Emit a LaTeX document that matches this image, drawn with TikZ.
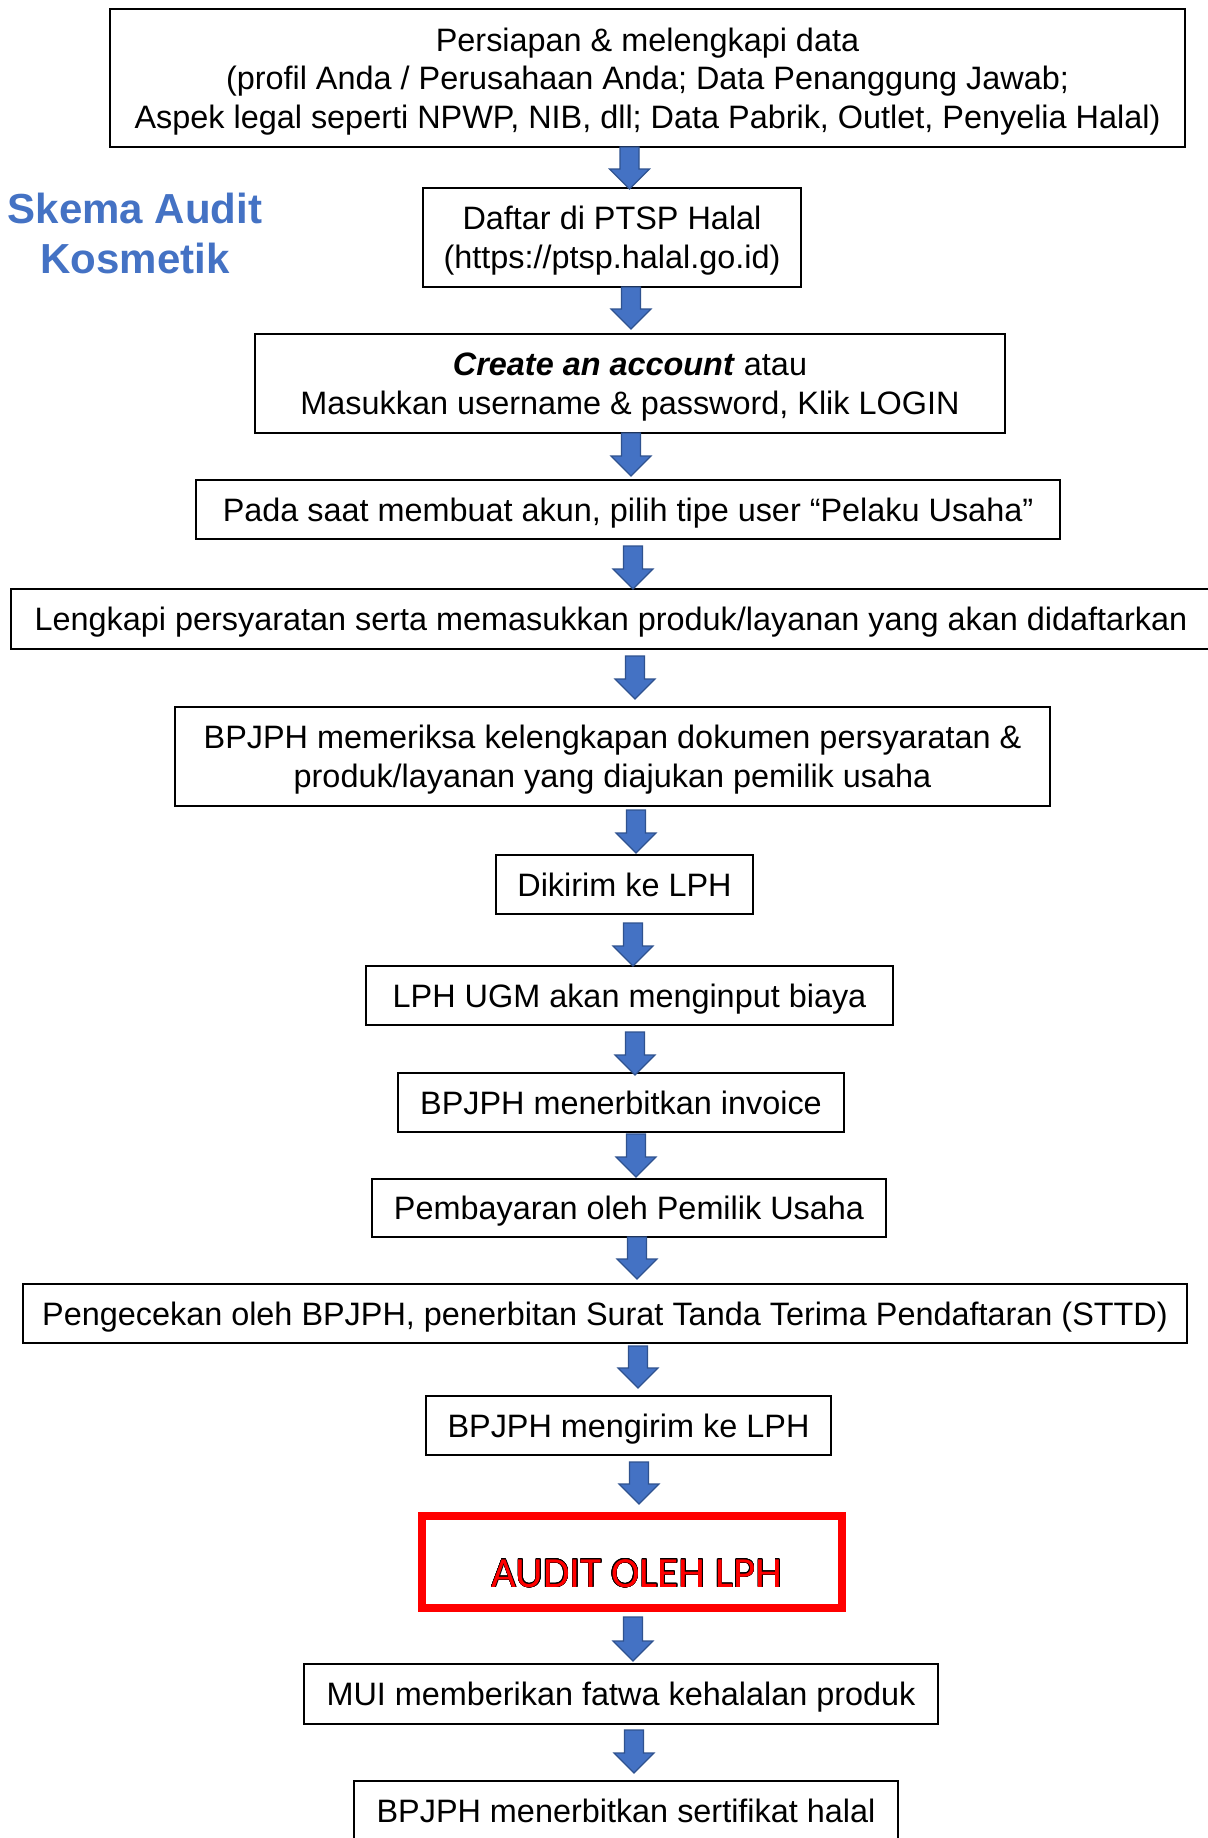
\documentclass[tikz,border=0pt]{standalone}
\usepackage{fontspec}
\setmainfont{Liberation Sans}
\newfontfamily\calibfont{Carlito}
\usepackage{contour}
\contourlength{0.45bp}
\usetikzlibrary{calc}
\definecolor{arrowfill}{HTML}{4472C4}
\definecolor{arrowline}{HTML}{2F528F}
\definecolor{titleblue}{HTML}{4472C4}
\newcommand{\boxlines}[1]{\vtop{\halign{\hfil##\hfil\cr#1\crcr}}}
\tikzset{
  stepbox/.style={draw=black, line width=2bp, inner sep=0pt, rectangle,
    font=\fontsize{32.4bp}{38.5bp}\selectfont, text height=23bp, text depth=0bp},
  redbox/.style={draw=red, line width=8bp, inner sep=0pt, rectangle},
  blockarr/.style={fill=arrowfill, draw=arrowline, line width=1.2bp, line join=miter,
    to path={let \p1=(\tikztostart), \p2=(\tikztotarget) in
      (\x1-9.5bp,\y1) -- (\x1+9.5bp,\y1) -- (\x1+9.5bp,\y2+20bp) -- (\x1+20bp,\y2+20bp)
      -- (\x1,\y2) -- (\x1-20bp,\y2+20bp) -- (\x1-9.5bp,\y2+20bp) -- cycle}}
}
\begin{document}
\begin{tikzpicture}[x=1bp,y=-1bp]
\fill[white] (0,0) rectangle (1207,1838);
\useasboundingbox (0,0) rectangle (1207,1838);

% title
\node[inner sep=0pt, text=titleblue, font=\bfseries\fontsize{42bp}{50bp}\selectfont,
  text height=30bp, text depth=50bp] (title) at (135,233) {\boxlines{Skema Audit\cr Kosmetik}};

% boxes
\node[stepbox, minimum width=1075bp, minimum height=138bp, text depth=77bp] (b1) at (647.5,78)
  {\boxlines{Persiapan \& melengkapi data\cr (profil Anda / Perusahaan Anda; Data Penanggung Jawab;\cr Aspek legal seperti NPWP, NIB, dll; Data Pabrik, Outlet, Penyelia Halal)}};
\node[stepbox, minimum width=378bp, minimum height=99bp, text depth=38.5bp] (b2) at (612,237.5)
  {\boxlines{Daftar di PTSP Halal\cr (https://ptsp.halal.go.id)}};
\node[stepbox, minimum width=750bp, minimum height=99bp, text depth=38.5bp] (b3) at (630,383.5)
  {\boxlines{\textbf{\textit{Create an account}} atau\cr Masukkan username \& password, Klik LOGIN}};
\node[stepbox, minimum width=864bp, minimum height=59bp] (b4) at (628,509.5)
  {Pada saat membuat akun, pilih tipe user “Pelaku Usaha”};
\node[stepbox, minimum width=1200bp, minimum height=60bp] (b5) at (611,619)
  {Lengkapi persyaratan serta memasukkan produk/layanan yang akan didaftarkan};
\node[stepbox, minimum width=875bp, minimum height=99bp, text depth=38.5bp] (b6) at (612.5,756.5)
  {\boxlines{BPJPH memeriksa kelengkapan dokumen persyaratan \&\cr produk/layanan yang diajukan pemilik usaha}};
\node[stepbox, minimum width=257bp, minimum height=59bp] (b7) at (624.5,884.5) {Dikirim ke LPH};
\node[stepbox, minimum width=527bp, minimum height=59bp] (b8) at (629.5,995.5) {LPH UGM akan menginput biaya};
\node[stepbox, minimum width=446bp, minimum height=59bp] (b9) at (621,1102.5) {BPJPH menerbitkan invoice};
\node[stepbox, minimum width=514bp, minimum height=58bp] (b10) at (629,1208) {Pembayaran oleh Pemilik Usaha};
\node[stepbox, minimum width=1164bp, minimum height=59bp] (b11) at (605,1313.5)
  {Pengecekan oleh BPJPH, penerbitan Surat Tanda Terima Pendaftaran (STTD)};
\node[stepbox, minimum width=405bp, minimum height=59bp] (b12) at (628.5,1425.5) {BPJPH mengirim ke LPH};
\node[redbox, minimum width=420bp, minimum height=92bp] (b13) at (632,1562) {};
\node[inner sep=0pt, text=red, font=\calibfont\fontsize{43bp}{50bp}\selectfont,
  text height=28bp, text depth=0bp] (b13t) at (637,1573) {\contour{black}{AUDIT OLEH LPH}};
\node[stepbox, minimum width=634bp, minimum height=60bp] (b14) at (621,1694) {MUI memberikan fatwa kehalalan produk};
\node[stepbox, minimum width=544bp, minimum height=60bp] (b15) at (626,1811) {BPJPH menerbitkan sertifikat halal};

% arrow end points
\coordinate (a1t) at (629.5,147);  \coordinate (a1b) at (629.5,189);
\coordinate (a2t) at (631,287);    \coordinate (a2b) at (631,329);
\coordinate (a3t) at (631,433);    \coordinate (a3b) at (631,476);
\coordinate (a4t) at (633,546);    \coordinate (a4b) at (633,589);
\coordinate (a5t) at (635,656);    \coordinate (a5b) at (635,699);
\coordinate (a6t) at (636,810);    \coordinate (a6b) at (636,853);
\coordinate (a7t) at (633,923);    \coordinate (a7b) at (633,966);
\coordinate (a8t) at (635,1032);   \coordinate (a8b) at (635,1075);
\coordinate (a9t) at (636,1134);   \coordinate (a9b) at (636,1177);
\coordinate (a10t) at (637,1237);  \coordinate (a10b) at (637,1279);
\coordinate (a11t) at (638,1346);  \coordinate (a11b) at (638,1388);
\coordinate (a12t) at (639,1462);  \coordinate (a12b) at (639,1504);
\coordinate (a13t) at (633,1617);  \coordinate (a13b) at (633,1661);
\coordinate (a14t) at (634,1730);  \coordinate (a14b) at (634,1773);

\foreach \i in {1,...,14} {\draw[blockarr] (a\i t) to (a\i b);}
\end{tikzpicture}
\end{document}
